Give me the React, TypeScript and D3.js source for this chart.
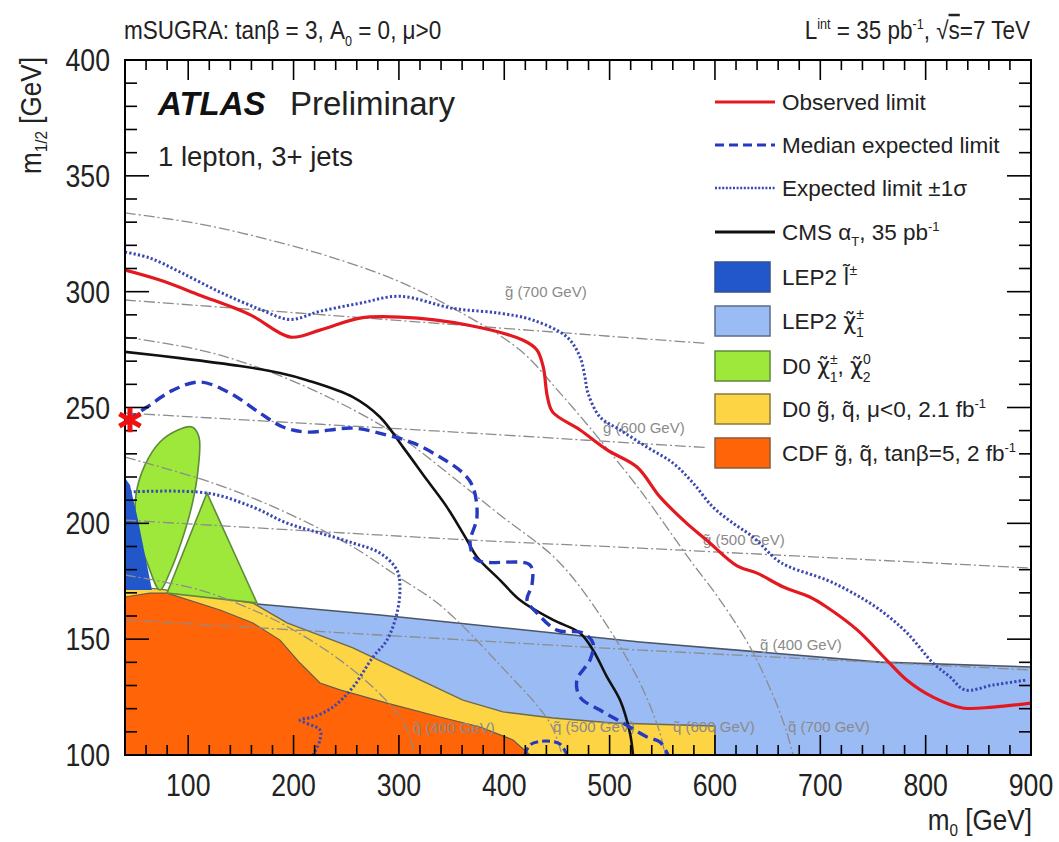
import React from 'react';
import * as d3 from 'd3';

type P = [number, number];

// ---------- data (m0 [GeV], m1/2 [GeV]) ----------
const xMajorTicks = [100, 200, 300, 400, 500, 600, 700, 800, 900];
const yMajorTicks = [100, 150, 200, 250, 300, 350, 400];

const observed: P[] = [[40,309.3],[73,305],[111,298.5],[159,290],[197,280.4],[225,283.4],[263,288.6],[301,289],[365,285.6],[418,279],[431,274.8],[437,267.5],[441,254.5],[446,248],[472,240.3],[498,231.6],[526,224.3],[548,211.3],[573,200.1],[592,192.8],[621,181.6],[640,178.5],[665,172.5],[690,168.2],[706,163.9],[735,154],[763,141],[782,132.4],[807,125],[835,120.3],[864,120.7],[900,122.4]];

const expPlus: P[] = [[40,317.1],[63.7,314.5],[92.2,308.5],[130.2,299.8],[168.1,292.4],[196.6,288],[225,291.5],[263,295],[301,298],[351.3,292.8],[396,290.7],[427.3,287.7],[459.6,280.4],[471.9,271.8],[476.6,263.1],[479.5,256.2],[490.9,245.9],[509.9,240.3],[535.5,232.9],[560.2,226],[579.2,217.4],[598.1,207],[617.1,200.1],[636.1,194.1],[658.9,184.2],[671.2,181.1],[706.3,175.5],[731,169.9],[756.7,162.6],[782.3,152.7],[807,139.7],[823.1,133.7],[837.3,128.1],[864,130.2],[896.2,132.4]];

const expMinus: P[] = [[40,213.5],[117.8,213.1],[161.5,207],[193.8,200.1],[225.1,195.8],[256.4,191.5],[282,187.2],[298.2,179.8],[301,172.5],[298.2,161.3],[288.7,149.6],[275.4,142.3],[256.4,129.3],[237.4,120.7],[218.5,116.4],[206.1,115.1],[225.1,110.8],[225.1,106.5],[218.5,100]];

const medianExp: P[] = [[41.9,244.6],[60.9,250.2],[85.6,257.5],[111.2,261],[139.7,256.2],[168.1,247.6],[190,241.6],[212.8,239.4],[256.4,241.1],[288.7,238.1],[313.4,234.7],[339,228.6],[360.8,221.7],[370.3,215.7],[374.1,202.7],[367.5,191.5],[374.1,184.2],[424.4,182],[426.3,173.4],[421.6,166.9],[431.1,161.3],[450,153.9],[474.7,152.7],[484.2,148.3],[481.4,141],[469,132.4],[471.9,125],[490.9,119.4],[512.7,113.8],[535.5,107.8],[547.8,105.6],[555.4,100]];

const medianIsland: P[] = [[419.7,100],[424.4,104.3],[438.7,106],[452.9,104.7],[459.6,100]];

const cmsAlphaT: P[] = [[40,274],[92.2,271.3],[149.2,267.9],[187.1,264.9],[212.8,261.8],[256.4,254.5],[282,245.9],[303.9,232.9],[326.7,218.7],[345.6,207],[364.6,192.8],[374.1,185.5],[396,175.5],[414.9,166.9],[446.3,158.3],[471.9,152.7],[484.2,145.3],[497.5,133.7],[509.9,123.7],[519.3,109.5],[522.2,100]];

const lep2Slepton: P[] = [[40,219.6],[44.7,216.6],[52.3,201.5],[59.9,184.2],[65.6,171.2],[40,171.2]];
const lep2CharginoEdge: P[] = [[165.3,165.2],[282,160.4],[528.8,148.8],[756.7,140.1],[900,138]];
const d0GauginoOval: P[] = [[73.2,171.2],[61.8,182],[51.4,197.1],[50.4,212.2],[59,225.2],[73.2,235.1],[90.3,240.3],[103.6,241.6],[110.2,237.3],[109.3,223],[103.6,207.9],[94.1,192.8],[82.7,179]];
const d0GauginoTriangle: P[] = [[117.8,213.1],[79.9,169.9],[165.3,165.6]];
const d0SquarkGluino: P[] = [[40,172.9],[73.2,171.6],[161.5,165.6],[193.8,157],[256.4,146.2],[320,132.4],[360.8,123.7],[398.8,118.6],[446.3,116],[503.2,113.8],[600,112.5],[600,100],[40,100]];
const cdfSquarkGluino: P[] = [[40,168.2],[63.7,169.9],[79.9,169.9],[130.2,162.6],[161.5,157],[187.1,149.6],[206.1,139.7],[225.1,131.1],[244.1,128.1],[288.7,122.4],[339,116.4],[377,112.1],[408.3,106.5],[424.4,100],[40,100]];

const squark700: P[] = [[40,334],[111.2,329.2],[177.6,322.3],[244.1,313.7],[301,304.2],[358,291.2],[414.9,274.8],[452.9,256.3],[490.9,236],[528.8,214.4],[576.3,184.2],[604.8,166.9],[633.3,146.6],[657,123.7],[668.4,109.5],[674.1,100]];
const squark600: P[] = [[40,280.4],[111.2,274.8],[168.1,267],[234.6,254.1],[301,237.3],[348.5,220.9],[396,203.6],[450,184.2],[490.9,160.4],[528.8,131.1],[547.8,109.5],[552.6,100]];
const squark500: P[] = [[40,228.6],[123.5,217.4],[193.8,204.5],[256.4,189.8],[301,176.4],[339,164.7],[396,138.8],[443.4,113.8],[454.8,100]];
const squark400: P[] = [[40,177.7],[111.2,171.2],[161.5,162.6],[196.6,154.8],[244.1,141],[284.9,125],[305.8,112.9],[315.3,100]];
const gluino700: P[] = [[40,296.4],[396,284.3],[588.6,277.8],[900,268]];
const gluino600: P[] = [[40,247.6],[367.5,239],[585.8,232.9],[900,225]];
const gluino500: P[] = [[40,201.4],[367.5,192.8],[528.8,189.3],[900,180.7]];
const gluino400: P[] = [[40,158.3],[282,151.8],[528.8,145.3],[900,136.7]];

const gluinoLabels = [
  { mass: '700', m0: 400.7, m12: 297.7 },
  { mass: '600', m0: 493.7, m12: 239 },
  { mass: '500', m0: 588.6, m12: 190.6 },
  { mass: '400', m0: 642.7, m12: 145.3 },
];
const squarkLabels = [
  { mass: '400', m0: 313.4, m12: 109.5 },
  { mass: '500', m0: 446.3, m12: 109.9 },
  { mass: '600', m0: 560.2, m12: 109.9 },
  { mass: '700', m0: 669.3, m12: 109.9 },
];
const starPoint: P = [44.7, 244.6];

// ---------- styles ----------
const FONT = "'Liberation Sans', Arial, Helvetica, sans-serif";
const C = {
  red: '#e3191f',
  dashed: '#2639c0',
  dotted: '#3a48b2',
  black: '#111111',
  lepSl: '#2257cc',
  lepCh: '#9bbbf4',
  green: '#9de83a',
  yellow: '#fdd444',
  orange: '#ff6508',
  gray: '#8c8c8c',
};

const Tl = ({ base }: { base: string }) => (
  <tspan fontFamily="'DejaVu Sans', sans-serif">{base}{'\u0303'}</tspan>
);

export default function App() {
  const W = 1059, H = 842;
  const L = 125, R = 1031, T = 60, B = 755;
  const x = d3.scaleLinear().domain([40, 900]).range([L, R]);
  const y = d3.scaleLinear().domain([100, 400]).range([B, T]);

  const lin = d3.line<P>().x(d => x(d[0])).y(d => y(d[1]));
  const smooth = d3.line<P>().x(d => x(d[0])).y(d => y(d[1])).curve(d3.curveCatmullRom.alpha(0.5));
  const closedSmooth = d3.line<P>().x(d => x(d[0])).y(d => y(d[1])).curve(d3.curveCatmullRomClosed.alpha(0.5));

  const xMinor = d3.range(40, 901, 20).filter(v => !xMajorTicks.includes(v));
  const yMinor = d3.range(100, 401, 10).filter(v => !yMajorTicks.includes(v));

  const dashDot = '11,3,2,3';
  const grayLines = [squark700, squark600, squark500, squark400, gluino700, gluino600, gluino500, gluino400];

  const star = d3.symbol(d3.symbolAsterisk, 420)();

  const lx1 = 715, lx2 = 775, tx = 782;
  const boxes = [
    { c: C.lepSl, yc: 277, s: '#35508a' },
    { c: C.lepCh, yc: 321, s: '#5a6c8a' },
    { c: C.green, yc: 366, s: '#5f8a3a' },
    { c: C.yellow, yc: 409, s: '#8a7a3a' },
    { c: C.orange, yc: 453, s: '#8a5a3a' },
  ];
  const LF = 22.5;

  return (
    <svg width={W} height={H} style={{ position: 'absolute', left: 0, top: 0, background: '#fff' }} fontFamily={FONT}>
      <defs>
        <clipPath id="plotArea"><rect x={L} y={T} width={R - L} height={B - T} /></clipPath>
      </defs>
      <rect x={0} y={0} width={W} height={H} fill="#fff" />

      <g clipPath="url(#plotArea)">
        {/* excluded regions */}
        <path d={lin([...lep2CharginoEdge, [900, 100], [165.3, 100]] as P[]) + 'Z'} fill={C.lepCh} />
        <path d={lin(lep2CharginoEdge) || ''} fill="none" stroke="#4a5566" strokeWidth={1.6} />
        <path d={lin(d0SquarkGluino) + 'Z'} fill={C.yellow} stroke="#6e6a4a" strokeWidth={1.4} />
        <path d={lin(cdfSquarkGluino) + 'Z'} fill={C.orange} stroke="#6a5a4a" strokeWidth={1.2} />
        <path d={closedSmooth(d0GauginoOval) || ''} fill={C.green} stroke="#5f8a3a" strokeWidth={1.6} />
        <path d={lin(d0GauginoTriangle) + 'Z'} fill={C.green} stroke="#5f8a3a" strokeWidth={1.6} />
        <path d={lin(lep2Slepton) + 'Z'} fill={C.lepSl} />

        {/* iso-mass lines */}
        {grayLines.map((g, i) => (
          <path key={i} d={smooth(g) || ''} fill="none" stroke={C.gray} strokeWidth={1.3} strokeDasharray={dashDot} />
        ))}
        {gluinoLabels.map((l, i) => (
          <text key={'g' + i} x={x(l.m0)} y={y(l.m12)} fontSize={15} fill="#8a8a8a">
            g{'\u0303'} ({l.mass} GeV)
          </text>
        ))}
        {squarkLabels.map((l, i) => (
          <text key={'q' + i} x={x(l.m0)} y={y(l.m12)} fontSize={15} fill="#8a8a8a">
            q{'\u0303'} ({l.mass} GeV)
          </text>
        ))}

        {/* legend background */}
        <rect x={706} y={76} width={322} height={402} fill="#fff" />

        {/* limit curves */}
        <path d={smooth(expMinus) || ''} fill="none" stroke={C.dotted} strokeWidth={3} strokeDasharray="2.2,2.2" />
        <path d={smooth(expPlus) || ''} fill="none" stroke={C.dotted} strokeWidth={3} strokeDasharray="2.2,2.2" />
        <path d={smooth(cmsAlphaT) || ''} fill="none" stroke={C.black} strokeWidth={2.6} />
        <path d={smooth(medianExp) || ''} fill="none" stroke={C.dashed} strokeWidth={3.4} strokeDasharray="11,6" />
        <path d={smooth(medianIsland) || ''} fill="none" stroke={C.dashed} strokeWidth={3} strokeDasharray="8,4" />
        <path d={smooth(observed) || ''} fill="none" stroke={C.red} strokeWidth={3.2} />
      </g>

      {/* frame and ticks */}
      <rect x={L} y={T} width={R - L} height={B - T} fill="none" stroke="#000" strokeWidth={2} />
      {xMajorTicks.map(v => (
        <g key={'xM' + v}>
          <line x1={x(v)} x2={x(v)} y1={B} y2={B - 20} stroke="#000" strokeWidth={1.6} />
          <line x1={x(v)} x2={x(v)} y1={T} y2={T + 20} stroke="#000" strokeWidth={1.6} />
        </g>
      ))}
      {xMinor.map(v => (
        <g key={'xm' + v}>
          <line x1={x(v)} x2={x(v)} y1={B} y2={B - 10} stroke="#000" strokeWidth={1.6} />
          <line x1={x(v)} x2={x(v)} y1={T} y2={T + 10} stroke="#000" strokeWidth={1.6} />
        </g>
      ))}
      {yMajorTicks.map(v => (
        <g key={'yM' + v}>
          <line x1={L} x2={L + 24} y1={y(v)} y2={y(v)} stroke="#000" strokeWidth={1.6} />
          <line x1={R} x2={R - 24} y1={y(v)} y2={y(v)} stroke="#000" strokeWidth={1.6} />
        </g>
      ))}
      {yMinor.map(v => (
        <g key={'ym' + v}>
          <line x1={L} x2={L + 12} y1={y(v)} y2={y(v)} stroke="#000" strokeWidth={1.6} />
          <line x1={R} x2={R - 12} y1={y(v)} y2={y(v)} stroke="#000" strokeWidth={1.6} />
        </g>
      ))}

      {/* tick labels (condensed) */}
      {xMajorTicks.map(v => (
        <text key={'xl' + v} transform={`translate(${x(v)},796) scale(0.86,1)`} textAnchor="middle" fontSize={31} fill="#222">{v}</text>
      ))}
      {yMajorTicks.map(v => (
        <text key={'yl' + v} transform={`translate(110,${y(v) + 11}) scale(0.86,1)`} textAnchor="end" fontSize={31} fill="#222">{v}</text>
      ))}

      {/* axis titles */}
      <text transform="translate(1032,830) scale(0.9,1)" textAnchor="end" fontSize={29} fill="#222">
        m<tspan dy={6} fontSize={17}>0</tspan><tspan dy={-6}> [GeV]</tspan>
      </text>
      <text transform="translate(41,57) rotate(-90) scale(0.9,1)" textAnchor="end" fontSize={29} fill="#222">
        m<tspan dy={6} fontSize={17}>1/2</tspan><tspan dy={-6}> [GeV]</tspan>
      </text>

      {/* header */}
      <text transform="translate(124,39) scale(0.9,1)" fontSize={25} fill="#222">
        mSUGRA: tanβ = 3, A<tspan dy={7} fontSize={14}>0</tspan><tspan dy={-7}> = 0, μ&gt;0</tspan>
      </text>
      <text transform="translate(1030,39) scale(0.9,1)" textAnchor="end" fontSize={25} fill="#222">
        L<tspan dy={-10} fontSize={14}>int</tspan><tspan dy={10}> = 35 pb</tspan><tspan dy={-10} fontSize={14}>-1</tspan><tspan dy={10}>, √</tspan><tspan textDecoration="overline">s</tspan>=7 TeV
      </text>

      {/* ATLAS label */}
      <text x={158} y={115} fontSize={33} fontWeight="bold" fontStyle="italic" fill="#111">ATLAS</text>
      <text x={290} y={115} fontSize={33} fill="#222">Preliminary</text>
      <text x={158} y={166} fontSize={27.5} fill="#222">1 lepton, 3+ jets</text>

      {/* legend */}
      <line x1={lx1} x2={lx2} y1={102} y2={102} stroke={C.red} strokeWidth={3} />
      <text x={tx} y={110} fontSize={LF} fill="#222">Observed limit</text>
      <line x1={lx1} x2={lx2} y1={145} y2={145} stroke={C.dashed} strokeWidth={3} strokeDasharray="9,5" />
      <text x={tx} y={153} fontSize={LF} fill="#222">Median expected limit</text>
      <line x1={lx1} x2={lx2} y1={188} y2={188} stroke={C.dotted} strokeWidth={2.4} strokeDasharray="2,1.6" />
      <text x={tx} y={196} fontSize={LF} fill="#222">Expected limit ±1σ</text>
      <line x1={lx1} x2={lx2} y1={232} y2={232} stroke={C.black} strokeWidth={3} />
      <text x={tx} y={240} fontSize={LF} fill="#222">
        CMS α<tspan dy={6} fontSize={13}>T</tspan><tspan dy={-6}>, 35 pb</tspan><tspan dy={-9} fontSize={13}>-1</tspan>
      </text>

      {boxes.map((b, i) => (
        <rect key={'box' + i} x={lx1} y={b.yc - 15} width={lx2 - lx1 - 5} height={30} fill={b.c} stroke={b.s} strokeWidth={1.5} />
      ))}
      <text x={tx} y={285} fontSize={LF} fill="#222">
        LEP2 <Tl base="l" /><tspan dy={-10} fontSize={14}>±</tspan>
      </text>
      <text x={tx} y={329} fontSize={LF} fill="#222">
        LEP2 <Tl base="χ" /><tspan dy={-10} fontSize={14}>±</tspan><tspan dx={-8} dy={18} fontSize={14}>1</tspan>
      </text>
      <text x={tx} y={374} fontSize={LF} fill="#222">
        D0 <Tl base="χ" /><tspan dy={-10} fontSize={14}>±</tspan><tspan dx={-8} dy={18} fontSize={14}>1</tspan><tspan dy={-8}>, </tspan><Tl base="χ" /><tspan dy={-10} fontSize={14}>0</tspan><tspan dx={-8} dy={18} fontSize={14}>2</tspan>
      </text>
      <text x={tx} y={417} fontSize={LF} fill="#222">
        D0 g{'\u0303'}, q{'\u0303'}, μ&lt;0, 2.1 fb<tspan dy={-9} fontSize={13}>-1</tspan>
      </text>
      <text x={tx} y={461} fontSize={LF} fill="#222">
        CDF g{'\u0303'}, q{'\u0303'}, tanβ=5, 2 fb<tspan dy={-9} fontSize={13}>-1</tspan>
      </text>

      {/* red star marker */}
      <path d={star || ''} transform={`translate(${x(starPoint[0])},${y(starPoint[1])})`} fill="none" stroke="#ee1111" strokeWidth={5} />
    </svg>
  );
}
